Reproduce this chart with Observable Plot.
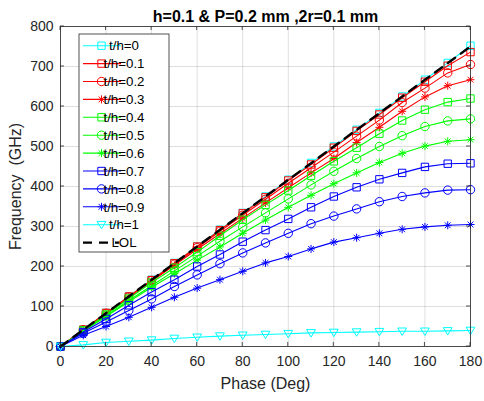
<!DOCTYPE html>
<html><head><meta charset="utf-8">
<script src="https://cdn.jsdelivr.net/npm/d3@7"></script>
<script src="https://cdn.jsdelivr.net/npm/@observablehq/plot@0.6"></script>
<style>
body{margin:0;background:#fff;font-family:"Liberation Sans",Arial,sans-serif}
#chart{position:relative;width:484px;height:401px}
</style>
</head><body><div id="chart"></div>
<script>
const phase = [0,10,20,30,40,50,60,70,80,90,100,110,120,130,140,150,160,170,180];
const th00 = [0,42,84,125,167,209,250,292,334,375,417,459,500,542,584,625,667,709,752];
const th01 = [0,42,84,125,166,208,250,291,333,373,415,455,497,539,580,622,662,702,736];
const th02 = [0,42,83,124,165,206,247,288,328,368,408,447,486,526,566,610,646,684,705];
const th03 = [0,42,82,123,163,203,243,282,321,359,397,434,470,510,548,588,624,652,667];
const th04 = [0,40,80,120,160,197,236,277,317,354,390,427,463,497,532,565,592,611,620];
const th05 = [0,39,77,115,152,189,226,263,299,334,369,404,438,470,500,527,550,564,569];
const th06 = [0,38,75,112,148,182,216,249,283,316,348,378,407,434,460,483,501,513,517];
const th07 = [0,36,69,103,136,167,200,230,262,291,319,348,375,398,418,434,449,457,458];
const th08 = [0,33,61,90,119,150,179,207,234,259,283,307,326,344,362,375,384,391,392];
const th09 = [0,28,50,73,98,123,146,167,188,209,225,244,261,272,283,293,299,303,305];
const th10 = [0,4,10,13,16,20,23,26,28,30,32,34,35,36,37,38,38,39,40];
const lol  = [0,41.7,83.3,125,166.7,208.3,250,291.7,333.3,375,416.7,458.3,500,541.7,583.3,625,666.7,708.3,750];
const seriesNames = ["t/h=0","t/h=0.1","t/h=0.2","t/h=0.3","t/h=0.4","t/h=0.5","t/h=0.6","t/h=0.7","t/h=0.8","t/h=0.9","t/h=1"];
const seriesValues = [th00,th01,th02,th03,th04,th05,th06,th07,th08,th09,th10];
const seriesColors = ["#00ffff","#ff0000","#ff0000","#ff0000","#00ff00","#00ff00","#00ff00","#0000ff","#0000ff","#0000ff","#00ffff"];
const seriesMarkers = ["square","square","circle","asterisk","square","circle","asterisk","square","circle","asterisk","triangleDown"];
const lolName = "LOL";
const xTicks = [0,20,40,60,80,100,120,140,160,180];
const yTicks = [0,100,200,300,400,500,600,700,800];
const titleText = "h=0.1 & P=0.2 mm ,2r=0.1 mm";
const xLabel = "Phase (Deg)";
const yLabel = "Frequency  (GHz)";

const FONT = '"Liberation Sans", Arial, sans-serif';
const symbols = {
  square: {draw(c, size){ const r = Math.sqrt(size/Math.PI)*0.92; c.moveTo(-r,-r); c.lineTo(r,-r); c.lineTo(r,r); c.lineTo(-r,r); c.closePath(); }},
  circle: {draw(c, size){ const r = Math.sqrt(size/Math.PI)*1.05; c.moveTo(r,0); c.arc(0,0,r,0,2*Math.PI); }},
  asterisk: {draw(c, size){ const r = Math.sqrt(size/Math.PI); const d = r*0.72;
    c.moveTo(-r,0); c.lineTo(r,0); c.moveTo(0,-r); c.lineTo(0,r);
    c.moveTo(-d,-d); c.lineTo(d,d); c.moveTo(-d,d); c.lineTo(d,-d); }},
  triangleDown: {draw(c, size){ const r = Math.sqrt(size/Math.PI)*1.1;
    c.moveTo(-r,-r*0.75); c.lineTo(r,-r*0.75); c.lineTo(0,r*0.95); c.closePath(); }}
};

const marks = [
  Plot.gridX(xTicks, {stroke:"#000", strokeOpacity:0.13}),
  Plot.gridY(yTicks, {stroke:"#000", strokeOpacity:0.13}),
];
seriesNames.forEach((name, i) => {
  const rows = phase.map((p, j) => ({phase: p, value: seriesValues[i][j]}));
  marks.push(Plot.line(rows, {x:"phase", y:"value", stroke: seriesColors[i], strokeWidth: 1.1}));
  marks.push(Plot.dot(rows, {x:"phase", y:"value", stroke: seriesColors[i], fill:"none", r: 4, strokeWidth: 1, symbol: () => symbols[seriesMarkers[i]]}));
});
const lolRows = phase.map((p, j) => ({phase: p, value: lol[j]}));
marks.push(Plot.line(lolRows, {x:"phase", y:"value", stroke:"#000", strokeWidth: 2.4, strokeDasharray:"9,7"}));
marks.push(Plot.frame({stroke:"#262626", strokeWidth: 0.8}));
marks.push(Plot.axisX(xTicks, {tickSize: 0, tickPadding: 10, fontSize: 14, color:"#262626", label: null}));
marks.push(Plot.axisY(yTicks, {tickSize: 0, tickPadding: 7, fontSize: 14, color:"#262626", label: null}));
marks.push(Plot.text([titleText], {frameAnchor:"top", dy:-10, lineAnchor:"middle", text: d=>d, fontWeight:"bold", fontSize: 16, fill:"#000"}));
marks.push(Plot.text([xLabel], {frameAnchor:"bottom", dy: 37, lineAnchor:"middle", text: d=>d, fontSize: 16, fill:"#262626"}));
marks.push(Plot.text([yLabel], {frameAnchor:"left", dx: -45, rotate: -90, textAnchor:"middle", lineAnchor:"middle", text: d=>d, fontSize: 16, fill:"#262626"}));

const chart = Plot.plot({
  width: 484, height: 401,
  marginLeft: 60, marginRight: 14, marginTop: 26, marginBottom: 55,
  style: {fontFamily: FONT, background: "#fff"},
  x: {domain: [0,180]},
  y: {domain: [0,800]},
  marks
});
document.getElementById("chart").appendChild(chart);

// inward ticks on all four sides, placed with the plot's own scales
const sx = chart.scale("x"), sy = chart.scale("y");
const svg = d3.select(chart);
const x0 = sx.apply(0), x1 = sx.apply(180), y0 = sy.apply(0), y1 = sy.apply(800);
const tg = svg.append("g").attr("stroke", "#262626").attr("stroke-width", 0.8);
xTicks.forEach(t => { const x = sx.apply(t);
  tg.append("line").attr("x1", x).attr("x2", x).attr("y1", y0).attr("y2", y0-4);
  tg.append("line").attr("x1", x).attr("x2", x).attr("y1", y1).attr("y2", y1+4); });
yTicks.forEach(t => { const y = sy.apply(t);
  tg.append("line").attr("x1", x0).attr("x2", x0+4).attr("y1", y).attr("y2", y);
  tg.append("line").attr("x1", x1).attr("x2", x1-4).attr("y1", y).attr("y2", y); });

// legend
const lg = svg.append("g");
const lx = 79, ly = 34, lw = 90, lh = 218, step = 17.9, first = 45.7;
lg.append("rect").attr("x", lx).attr("y", ly).attr("width", lw).attr("height", lh)
  .attr("fill", "#fff").attr("stroke", "#262626").attr("stroke-width", 0.8);
const entries = seriesNames.map((n, i) => ({name: n, color: seriesColors[i], marker: seriesMarkers[i]}));
entries.push({name: lolName, color: "#000", marker: null});
entries.forEach((e, i) => {
  const y = first + i*step;
  const line = lg.append("line").attr("x1", 83).attr("x2", 121).attr("y1", y).attr("y2", y)
    .attr("stroke", e.color).attr("stroke-width", e.marker ? 1.1 : 2.4);
  if (!e.marker) line.attr("stroke-dasharray", "9,7").attr("x2", 119);
  if (e.marker) lg.append("path").attr("d", d3.symbol(symbols[e.marker], Math.PI*16)())
    .attr("transform", `translate(101.5,${y})`).attr("fill", "none").attr("stroke", e.color).attr("stroke-width", 1);
  lg.append("text").attr("x", 124).attr("y", y + 4.7).style("font-size", "13.3px")
    .attr("fill", "#000").style("font-family", FONT).text(e.name);
});
</script>
</body></html>
